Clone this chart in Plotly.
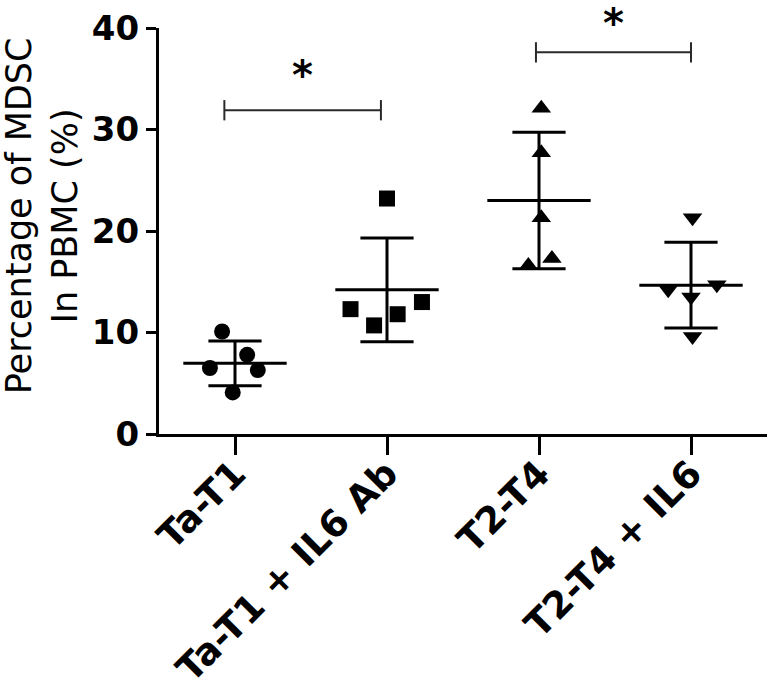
import numpy as np
import plotly.graph_objects as go

# --- data ---
groups = ["Ta-T1", "Ta-T1 + IL6 Ab", "T2-T4", "T2-T4 + IL6"]
ta_t1 = [10.1, 7.8, 6.5, 6.3, 4.1]
ta_t1_il6ab = [23.2, 12.3, 10.7, 11.8, 13.0]
t2_t4 = [32.1, 27.7, 21.3, 17.3, 16.6]
t2_t4_il6 = [21.3, 14.2, 13.5, 14.7, 9.6]
# horizontal scatter of the dots within each column (category units)
jitter = [
    [-0.085, 0.08, -0.165, 0.15, -0.015],
    [0.0, -0.24, -0.085, 0.07, 0.23],
    [0.015, 0.015, 0.015, 0.085, -0.07],
    [0.01, -0.15, 0.0, 0.17, 0.01],
]
y_ticks = [0, 10, 20, 30, 40]
# significance brackets: (x start, x end, y)
bracket_x0 = [-0.07, 1.98]
bracket_x1 = [0.96, 3.0]
bracket_y = [31.9, 37.6]
bracket_label = ["*", "*"]

values = [ta_t1, ta_t1_il6ab, t2_t4, t2_t4_il6]
symbols = ["circle", "square", "triangle-up", "triangle-down"]
sizes = [16, 16, 17, 17]
star_gap = [3.5, 2.9]   # how far above each bracket its star sits (y units)

FONT = "DejaVu Sans, Arial, sans-serif"
BLACK = "#000000"
Y_MAX = 40

fig = go.Figure()

for i, vals in enumerate(values):
    xs = [i + j for j in jitter[i]]
    fig.add_trace(go.Scatter(
        x=xs, y=vals, mode="markers",
        marker=dict(symbol=symbols[i], size=sizes[i], color=BLACK, line=dict(width=0)),
        showlegend=False, cliponaxis=False,
    ))

    # mean +/- SD
    m = float(np.mean(vals))
    sd = float(np.std(vals, ddof=1))
    wm, wc = 0.34, 0.175
    fig.add_trace(go.Scatter(
        x=[i - wm, i + wm, None, i, i, None, i - wc, i + wc, None, i - wc, i + wc],
        y=[m, m, None, m - sd, m + sd, None, m + sd, m + sd, None, m - sd, m - sd],
        mode="lines", line=dict(color=BLACK, width=3),
        showlegend=False, cliponaxis=False, hoverinfo="skip",
    ))

for x0, x1, yb, lab, gap in zip(bracket_x0, bracket_x1, bracket_y, bracket_label, star_gap):
    fig.add_trace(go.Scatter(
        x=[x0, x1, None, x0, x0, None, x1, x1],
        y=[yb, yb, None, yb - 1, yb + 1, None, yb - 1, yb + 1],
        mode="lines", line=dict(color="#2a2a2a", width=2),
        showlegend=False, cliponaxis=False, hoverinfo="skip",
    ))
    # star above the bracket (paper y so it is drawn even above the axis range)
    fig.add_annotation(
        x=(x0 + x1) / 2, xref="x", y=(yb + gap) / Y_MAX, yref="paper",
        text=f"<b>{lab}</b>", showarrow=False,
        font=dict(family=FONT, size=40, color=BLACK), yanchor="middle",
    )

fig.add_annotation(
    text="Percentage of MDSC<br>In PBMC (%)", textangle=-90,
    xref="paper", yref="paper", x=-0.192, y=0.537,
    xanchor="center", yanchor="middle", showarrow=False,
    font=dict(family=FONT, size=35, color=BLACK),
)

fig.update_xaxes(
    range=[-0.5, 3.5], tickvals=list(range(len(groups))), ticktext=groups,
    tickangle=-45, ticks="outside", ticklen=18, tickwidth=3, tickcolor=BLACK,
    showline=True, linewidth=3, linecolor=BLACK, showgrid=False, zeroline=False,
    ticklabelstandoff=-18,
    tickfont=dict(family=FONT, size=37, color=BLACK, weight="bold"),
    automargin=False,
)
fig.update_yaxes(
    range=[0, Y_MAX], tickvals=y_ticks, ticks="outside", ticklen=10, tickwidth=3,
    tickcolor=BLACK, showline=True, linewidth=3, linecolor=BLACK,
    showgrid=False, zeroline=False, ticklabelstandoff=0,
    tickfont=dict(family=FONT, size=34, color=BLACK, weight="bold"),
    automargin=False,
)

fig.update_layout(
    width=771, height=698,
    margin=dict(l=159, r=4, t=28, b=264, autoexpand=False),
    paper_bgcolor="white", plot_bgcolor="white",
    font=dict(family=FONT, color=BLACK),
    showlegend=False,
)

# drop the browser's default page margin so the figure sits at (0, 0)
fig.write_html("out.html", config={"displayModeBar": False},
               post_script="document.body.style.margin='0';")
